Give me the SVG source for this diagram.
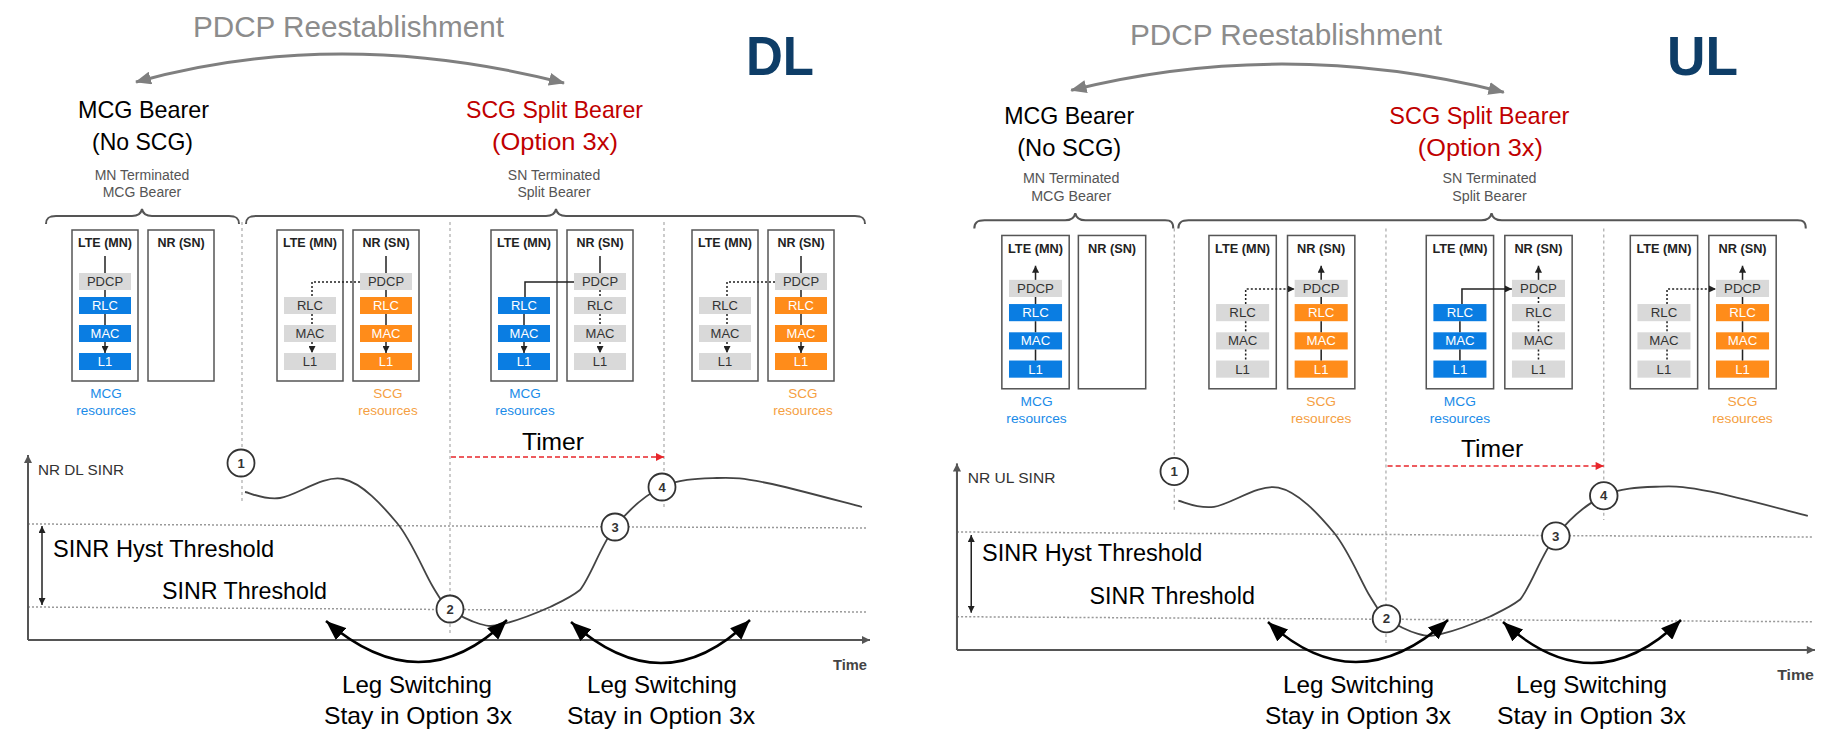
<svg xmlns="http://www.w3.org/2000/svg" width="1841" height="739" viewBox="0 0 1841 739">
<style>
text{font-family:"Liberation Sans",Arial,sans-serif}
.box{fill:none;stroke:#555;stroke-width:1.5}
.hdr{font-size:12.5px;font-weight:bold;fill:#222;text-anchor:middle}
.g{fill:#d9d9d9}.b{fill:#0a7de2}.o{fill:#ff8c1a}
.bt{font-size:13px;text-anchor:middle}
.d{fill:#333}.w{fill:#fff}
.res{font-size:13.5px;text-anchor:middle}
.mcg{fill:#1a8be8}.scg{fill:#f5a042}
.sl{fill:none;stroke:#222;stroke-width:1.5}
.dt{fill:none;stroke:#222;stroke-width:1.5;stroke-dasharray:2 2}
.sep{fill:none;stroke:#aaa;stroke-width:1.2;stroke-dasharray:3 3}
.thr{fill:none;stroke:#999;stroke-width:1.5;stroke-dasharray:2 2}
.big{font-size:24px;fill:#000}
.mid{text-anchor:middle}
.title{font-size:29.5px;fill:#8c8c8c;text-anchor:middle}
.red{fill:#c00000}
.sub{font-size:14px;fill:#555;text-anchor:middle}
.brace{fill:none;stroke:#555;stroke-width:2}
.axis{fill:none;stroke:#555;stroke-width:2}
.curve{fill:none;stroke:#444;stroke-width:1.8}
.pt{fill:#fff;stroke:#333;stroke-width:1.8}
.ptn{font-size:13px;font-weight:bold;fill:#333;text-anchor:middle}
.leg{fill:none;stroke:#000;stroke-width:2.5}
.timer{fill:none;stroke:#e8262b;stroke-width:1.6;stroke-dasharray:5 3}
.arc{fill:none;stroke:#7f7f7f;stroke-width:3}
.axl{font-size:15px;fill:#333}
.tl{font-size:14px;font-weight:bold;fill:#444}
.dir{font-size:56px;font-weight:bold;fill:#0e3d67}
</style>
<defs>
<marker id="m-gray" viewBox="0 0 16 13" refX="15" refY="6.5" markerWidth="16" markerHeight="13" markerUnits="userSpaceOnUse" orient="auto-start-reverse"><path d="M0,0L16,6.5L0,13z" fill="#7f7f7f"/></marker>
<marker id="m-s" viewBox="0 0 10 10" refX="10" refY="5" markerWidth="7" markerHeight="7" markerUnits="userSpaceOnUse" orient="auto"><path d="M0,0L10,5L0,10z" fill="#222"/></marker>
<marker id="m-ax" viewBox="0 0 10 10" refX="10" refY="5" markerWidth="10" markerHeight="8" markerUnits="userSpaceOnUse" orient="auto"><path d="M0,0L10,5L0,10z" fill="#555"/></marker>
<marker id="m-red" viewBox="0 0 10 10" refX="10" refY="5" markerWidth="9" markerHeight="8" markerUnits="userSpaceOnUse" orient="auto"><path d="M0,0L10,5L0,10z" fill="#e8262b"/></marker>
<marker id="m-leg" viewBox="0 0 20 16" refX="20" refY="8" markerWidth="20" markerHeight="16" markerUnits="userSpaceOnUse" orient="auto-start-reverse"><path d="M0,0L20,8L0,16z" fill="#000"/></marker>
<marker id="m-h" viewBox="0 0 10 10" refX="10" refY="5" markerWidth="7" markerHeight="7" markerUnits="userSpaceOnUse" orient="auto-start-reverse"><path d="M0,0L10,5L0,10z" fill="#222"/></marker>
</defs>
<rect width="1841" height="739" fill="#fff"/>

<!-- ================= DL ================= -->
<g id="dl">
 <g id="dl-heading">
  <text class="title" x="348.5" y="37" textLength="311" lengthAdjust="spacingAndGlyphs">PDCP Reestablishment</text>
 </g>
 <g id="dl-mcg-bearer">
  <text class="big mid" x="143.5" y="118" textLength="131" lengthAdjust="spacingAndGlyphs">MCG Bearer</text>
  <text class="big mid" x="142.5" y="150" textLength="101" lengthAdjust="spacingAndGlyphs">(No SCG)</text>
  <text class="sub" x="142" y="180">MN Terminated</text>
  <text class="sub" x="142" y="197">MCG Bearer</text>
 </g>
 <g id="dl-scg-bearer">
  <text class="big mid red" x="554.5" y="118" textLength="177" lengthAdjust="spacingAndGlyphs">SCG Split Bearer</text>
  <text class="big mid red" x="555" y="150" textLength="126" lengthAdjust="spacingAndGlyphs">(Option 3x)</text>
  <text class="sub" x="554" y="180">SN Terminated</text>
  <text class="sub" x="554" y="197">Split Bearer</text>
 </g>
 <g id="dl-braces">
  <path class="brace" d="M46,224C46,218 49,216 56,216L132,216C138,216 141,214 142,209C143,214 146,216 152,216L229,216C236,216 239,218 239,224"/>
  <path class="brace" d="M246,224C246,218 249,216 256,216L546,216C552,216 555,214 556,209C557,214 560,216 566,216L855,216C862,216 865,218 865,224"/>
  <path class="sep" d="M242,222V502M450,222V634M664,222V510"/>
 </g>
 <g id="dl-p1" transform="translate(72,230)">
  <rect class="box" x="0" y="0" width="66" height="151"/><rect class="box" x="76" y="0" width="66" height="151"/>
  <text class="hdr" x="33" y="17">LTE (MN)</text><text class="hdr" x="109" y="17">NR (SN)</text>
  <rect class="g" x="7" y="43" width="52" height="17"/><text class="bt d" x="33" y="56">PDCP</text>
  <rect class="b" x="7" y="67" width="52" height="17"/><text class="bt w" x="33" y="80">RLC</text>
  <rect class="b" x="7" y="95" width="52" height="17"/><text class="bt w" x="33" y="108">MAC</text>
  <rect class="b" x="7" y="123" width="52" height="17"/><text class="bt w" x="33" y="136">L1</text>
  <text class="res mcg" x="34" y="168">MCG</text><text class="res mcg" x="34" y="185">resources</text>
 </g>
 <g id="dl-p2" transform="translate(277,230)">
  <rect class="box" x="0" y="0" width="66" height="151"/><rect class="box" x="76" y="0" width="66" height="151"/>
  <text class="hdr" x="33" y="17">LTE (MN)</text><text class="hdr" x="109" y="17">NR (SN)</text>
  <rect class="g" x="7" y="67" width="52" height="17"/><text class="bt d" x="33" y="80">RLC</text>
  <rect class="g" x="7" y="95" width="52" height="17"/><text class="bt d" x="33" y="108">MAC</text>
  <rect class="g" x="7" y="123" width="52" height="17"/><text class="bt d" x="33" y="136">L1</text>
  <rect class="g" x="83" y="43" width="52" height="17"/><text class="bt d" x="109" y="56">PDCP</text>
  <rect class="o" x="83" y="67" width="52" height="17"/><text class="bt w" x="109" y="80">RLC</text>
  <rect class="o" x="83" y="95" width="52" height="17"/><text class="bt w" x="109" y="108">MAC</text>
  <rect class="o" x="83" y="123" width="52" height="17"/><text class="bt w" x="109" y="136">L1</text>
  <text class="res scg" x="111" y="168">SCG</text><text class="res scg" x="111" y="185">resources</text>
 </g>
 <g id="dl-p3" transform="translate(491,230)">
  <rect class="box" x="0" y="0" width="66" height="151"/><rect class="box" x="76" y="0" width="66" height="151"/>
  <text class="hdr" x="33" y="17">LTE (MN)</text><text class="hdr" x="109" y="17">NR (SN)</text>
  <rect class="b" x="7" y="67" width="52" height="17"/><text class="bt w" x="33" y="80">RLC</text>
  <rect class="b" x="7" y="95" width="52" height="17"/><text class="bt w" x="33" y="108">MAC</text>
  <rect class="b" x="7" y="123" width="52" height="17"/><text class="bt w" x="33" y="136">L1</text>
  <rect class="g" x="83" y="43" width="52" height="17"/><text class="bt d" x="109" y="56">PDCP</text>
  <rect class="g" x="83" y="67" width="52" height="17"/><text class="bt d" x="109" y="80">RLC</text>
  <rect class="g" x="83" y="95" width="52" height="17"/><text class="bt d" x="109" y="108">MAC</text>
  <rect class="g" x="83" y="123" width="52" height="17"/><text class="bt d" x="109" y="136">L1</text>
  <text class="res mcg" x="34" y="168">MCG</text><text class="res mcg" x="34" y="185">resources</text>
 </g>
 <g id="dl-p4" transform="translate(692,230)">
  <rect class="box" x="0" y="0" width="66" height="151"/><rect class="box" x="76" y="0" width="66" height="151"/>
  <text class="hdr" x="33" y="17">LTE (MN)</text><text class="hdr" x="109" y="17">NR (SN)</text>
  <rect class="g" x="7" y="67" width="52" height="17"/><text class="bt d" x="33" y="80">RLC</text>
  <rect class="g" x="7" y="95" width="52" height="17"/><text class="bt d" x="33" y="108">MAC</text>
  <rect class="g" x="7" y="123" width="52" height="17"/><text class="bt d" x="33" y="136">L1</text>
  <rect class="g" x="83" y="43" width="52" height="17"/><text class="bt d" x="109" y="56">PDCP</text>
  <rect class="o" x="83" y="67" width="52" height="17"/><text class="bt w" x="109" y="80">RLC</text>
  <rect class="o" x="83" y="95" width="52" height="17"/><text class="bt w" x="109" y="108">MAC</text>
  <rect class="o" x="83" y="123" width="52" height="17"/><text class="bt w" x="109" y="136">L1</text>
  <text class="res scg" x="111" y="168">SCG</text><text class="res scg" x="111" y="185">resources</text>
 </g>
 <g id="dl-graph">
  <path class="thr" d="M28,524L866,528M28,607L866,612"/>
  <path class="axis" d="M28,640V455" marker-end="url(#m-ax)"/>
  <path class="axis" d="M28,640H870" marker-end="url(#m-ax)"/>
  <text class="axl" x="38" y="475" textLength="86" lengthAdjust="spacingAndGlyphs">NR DL SINR</text>
  <text class="big" x="53" y="557" textLength="221" lengthAdjust="spacingAndGlyphs">SINR Hyst Threshold</text>
  <text class="big" x="162" y="599" textLength="165" lengthAdjust="spacingAndGlyphs">SINR Threshold</text>
  <text class="big" x="522" y="450" textLength="62" lengthAdjust="spacingAndGlyphs">Timer</text>
  <text class="tl" x="833" y="670" textLength="34" lengthAdjust="spacingAndGlyphs">Time</text>
  <path class="curve" d="M245,492C250.8,493 263.7,500.2 280,498C296.3,495.8 323.5,474.8 343,479C362.5,483.2 382,505 397,523C412,541 424.2,572.7 433,587C441.8,601.3 442.2,602.8 450,609C457.8,615.2 471.2,621.5 480,624C488.8,626.5 491.3,626.8 503,624C514.7,621.2 537.2,612.7 550,607C558,603 570,598 580,590C590.8,576.7 601.3,544.2 615,527C628.7,509.8 645,495.2 662,487C679,478.8 699.5,478.7 717,478C734.5,477.3 742.8,478.2 767,483C791.2,487.8 846.2,503 862,507"/>
 </g>
 <g id="dl-points">
  <circle class="pt" cx="241" cy="463" r="13.5"/><text class="ptn" x="241" y="467.5">1</text>
  <circle class="pt" cx="450" cy="609" r="13.5"/><text class="ptn" x="450" y="613.5">2</text>
  <circle class="pt" cx="615" cy="527" r="13.5"/><text class="ptn" x="615" y="531.5">3</text>
  <circle class="pt" cx="662" cy="487" r="13.5"/><text class="ptn" x="662" y="491.5">4</text>
 </g>
 <g id="dl-legs">
  <text class="big mid" x="417" y="693" textLength="150" lengthAdjust="spacingAndGlyphs">Leg Switching</text>
  <text class="big mid" x="418" y="724" textLength="188" lengthAdjust="spacingAndGlyphs">Stay in Option 3x</text>
  <text class="big mid" x="662" y="693" textLength="150" lengthAdjust="spacingAndGlyphs">Leg Switching</text>
  <text class="big mid" x="661" y="724" textLength="188" lengthAdjust="spacingAndGlyphs">Stay in Option 3x</text>
 </g>
 <g id="dl-connectors">
  <path class="arc" d="M136,82Q338,25.5 564,83" marker-start="url(#m-gray)" marker-end="url(#m-gray)"/>
  <g transform="translate(72,230)">
   <path class="sl" d="M33,26V43M33,60V67M33,84V95"/><path class="sl" d="M33,112V123" marker-end="url(#m-s)"/>
  </g>
  <g transform="translate(277,230)">
   <path class="sl" d="M109,26V43M109,60V67M109,84V95"/><path class="sl" d="M109,112V123" marker-end="url(#m-s)"/>
   <path class="dt" d="M83,52H35V67M35,84V95"/><path class="dt" d="M35,112V123" marker-end="url(#m-s)"/>
  </g>
  <g transform="translate(491,230)">
   <path class="sl" d="M109,26V43"/><path class="dt" d="M109,60V67M109,84V95"/><path class="dt" d="M109,112V123" marker-end="url(#m-s)"/>
   <path class="sl" d="M83,52H34V67M33,84V95"/><path class="sl" d="M33,112V123" marker-end="url(#m-s)"/>
  </g>
  <g transform="translate(692,230)">
   <path class="sl" d="M109,26V43M109,60V67M109,84V95"/><path class="sl" d="M109,112V123" marker-end="url(#m-s)"/>
   <path class="dt" d="M83,52H35V67M35,84V95"/><path class="dt" d="M35,112V123" marker-end="url(#m-s)"/>
  </g>
  <path class="sl" d="M42,526V605" marker-start="url(#m-h)" marker-end="url(#m-h)"/>
  <path class="timer" d="M451,457H664" marker-end="url(#m-red)"/>
  <path class="leg" d="M326,621Q421.5,703.5 507,620" marker-start="url(#m-leg)" marker-end="url(#m-leg)"/>
  <path class="leg" d="M571,622Q663.5,705 750,620" marker-start="url(#m-leg)" marker-end="url(#m-leg)"/>
 </g>
</g>
<g id="dl-label"><text class="dir" x="746" y="75" textLength="68" lengthAdjust="spacingAndGlyphs">DL</text></g>

<!-- ================= UL ================= -->
<g id="ul" transform="matrix(1.0202 0 0 1.0086 928.4 4.5)">
 <g id="ul-heading">
  <text class="title" x="350.5" y="40.2" textLength="306" lengthAdjust="spacingAndGlyphs">PDCP Reestablishment</text>
 </g>
 <g id="ul-mcg-bearer">
  <text class="big mid" x="138" y="118.5" textLength="127.5" lengthAdjust="spacingAndGlyphs">MCG Bearer</text>
  <text class="big mid" x="138" y="150" textLength="102" lengthAdjust="spacingAndGlyphs">(No SCG)</text>
  <text class="sub" x="140" y="177">MN Terminated</text>
  <text class="sub" x="140" y="195">MCG Bearer</text>
 </g>
 <g id="ul-scg-bearer">
  <text class="big mid red" x="540" y="118.5" textLength="176.5" lengthAdjust="spacingAndGlyphs">SCG Split Bearer</text>
  <text class="big mid red" x="541" y="150" textLength="122.5" lengthAdjust="spacingAndGlyphs">(Option 3x)</text>
  <text class="sub" x="550" y="177">SN Terminated</text>
  <text class="sub" x="550" y="195">Split Bearer</text>
 </g>
 <g id="ul-braces">
  <path class="brace" d="M45,222C45,216 48,214 55,214L134,214C140,214 143,212 144,207C145,212 148,214 154,214L232,214C238,214 240,216 240,222"/>
  <path class="brace" d="M245,222C245,216 248,214 255,214L542,214C548,214 551,212 552,207C553,212 556,214 562,214L852,214C858,214 860,216 860,222"/>
  <path class="sep" d="M241,222V501M448.5,222V633M662,222V511"/>
 </g>
 <g id="ul-p1" transform="translate(72,229)">
  <rect class="box" x="0" y="0" width="66" height="152"/><rect class="box" x="75" y="0" width="66" height="152"/>
  <text class="hdr" x="33" y="17">LTE (MN)</text><text class="hdr" x="108" y="17">NR (SN)</text>
  <rect class="g" x="7" y="44" width="52" height="17"/><text class="bt d" x="33" y="57">PDCP</text>
  <rect class="b" x="7" y="68" width="52" height="17"/><text class="bt w" x="33" y="81">RLC</text>
  <rect class="b" x="7" y="96" width="52" height="17"/><text class="bt w" x="33" y="109">MAC</text>
  <rect class="b" x="7" y="124" width="52" height="17"/><text class="bt w" x="33" y="137">L1</text>
  <text class="res mcg" x="34" y="169">MCG</text><text class="res mcg" x="34" y="186">resources</text>
 </g>
 <g id="ul-p2" transform="translate(275,229)">
  <rect class="box" x="0" y="0" width="66" height="152"/><rect class="box" x="77" y="0" width="66" height="152"/>
  <text class="hdr" x="33" y="17">LTE (MN)</text><text class="hdr" x="110" y="17">NR (SN)</text>
  <rect class="g" x="7" y="68" width="52" height="17"/><text class="bt d" x="33" y="81">RLC</text>
  <rect class="g" x="7" y="96" width="52" height="17"/><text class="bt d" x="33" y="109">MAC</text>
  <rect class="g" x="7" y="124" width="52" height="17"/><text class="bt d" x="33" y="137">L1</text>
  <rect class="g" x="84" y="44" width="52" height="17"/><text class="bt d" x="110" y="57">PDCP</text>
  <rect class="o" x="84" y="68" width="52" height="17"/><text class="bt w" x="110" y="81">RLC</text>
  <rect class="o" x="84" y="96" width="52" height="17"/><text class="bt w" x="110" y="109">MAC</text>
  <rect class="o" x="84" y="124" width="52" height="17"/><text class="bt w" x="110" y="137">L1</text>
  <text class="res scg" x="110" y="169">SCG</text><text class="res scg" x="110" y="186">resources</text>
 </g>
 <g id="ul-p3" transform="translate(488,229)">
  <rect class="box" x="0" y="0" width="66" height="152"/><rect class="box" x="77" y="0" width="66" height="152"/>
  <text class="hdr" x="33" y="17">LTE (MN)</text><text class="hdr" x="110" y="17">NR (SN)</text>
  <rect class="b" x="7" y="68" width="52" height="17"/><text class="bt w" x="33" y="81">RLC</text>
  <rect class="b" x="7" y="96" width="52" height="17"/><text class="bt w" x="33" y="109">MAC</text>
  <rect class="b" x="7" y="124" width="52" height="17"/><text class="bt w" x="33" y="137">L1</text>
  <rect class="g" x="84" y="44" width="52" height="17"/><text class="bt d" x="110" y="57">PDCP</text>
  <rect class="g" x="84" y="68" width="52" height="17"/><text class="bt d" x="110" y="81">RLC</text>
  <rect class="g" x="84" y="96" width="52" height="17"/><text class="bt d" x="110" y="109">MAC</text>
  <rect class="g" x="84" y="124" width="52" height="17"/><text class="bt d" x="110" y="137">L1</text>
  <text class="res mcg" x="33" y="169">MCG</text><text class="res mcg" x="33" y="186">resources</text>
 </g>
 <g id="ul-p4" transform="translate(688,229)">
  <rect class="box" x="0" y="0" width="66" height="152"/><rect class="box" x="77" y="0" width="66" height="152"/>
  <text class="hdr" x="33" y="17">LTE (MN)</text><text class="hdr" x="110" y="17">NR (SN)</text>
  <rect class="g" x="7" y="68" width="52" height="17"/><text class="bt d" x="33" y="81">RLC</text>
  <rect class="g" x="7" y="96" width="52" height="17"/><text class="bt d" x="33" y="109">MAC</text>
  <rect class="g" x="7" y="124" width="52" height="17"/><text class="bt d" x="33" y="137">L1</text>
  <rect class="g" x="84" y="44" width="52" height="17"/><text class="bt d" x="110" y="57">PDCP</text>
  <rect class="o" x="84" y="68" width="52" height="17"/><text class="bt w" x="110" y="81">RLC</text>
  <rect class="o" x="84" y="96" width="52" height="17"/><text class="bt w" x="110" y="109">MAC</text>
  <rect class="o" x="84" y="124" width="52" height="17"/><text class="bt w" x="110" y="137">L1</text>
  <text class="res scg" x="110" y="169">SCG</text><text class="res scg" x="110" y="186">resources</text>
 </g>
 <g id="ul-graph">
  <path class="thr" d="M28,523L866,528M28,607L866,612"/>
  <path class="axis" d="M28,640V455" marker-end="url(#m-ax)"/>
  <path class="axis" d="M28,640H869" marker-end="url(#m-ax)"/>
  <text class="axl" x="38.5" y="474" textLength="86" lengthAdjust="spacingAndGlyphs">NR UL SINR</text>
  <text class="big" x="52.5" y="552" textLength="216" lengthAdjust="spacingAndGlyphs">SINR Hyst Threshold</text>
  <text class="big" x="158" y="594" textLength="162" lengthAdjust="spacingAndGlyphs">SINR Threshold</text>
  <text class="big" x="522" y="449" textLength="61" lengthAdjust="spacingAndGlyphs">Timer</text>
  <text class="tl" x="832" y="670" textLength="36" lengthAdjust="spacingAndGlyphs">Time</text>
  <path class="curve" d="M245,492C250.8,493 263.7,500.2 280,498C296.3,495.8 323.5,474.8 343,479C362.5,483.2 382,505 397,523C412,541 424.2,572.7 433,587C441.8,601.3 442.2,602.8 450,609C457.8,615.2 471.2,621.5 480,624C488.8,626.5 491.3,626.8 503,624C514.7,621.2 537.2,612.7 550,607C558,603 570,598 580,590C590.8,576.7 601.3,544.2 615,527C628.7,509.8 645,495.2 662,487C679,478.8 699.5,478.7 717,478C734.5,477.3 742.8,478.2 767,483C791.2,487.8 846.2,503 862,507"/>
 </g>
 <g id="ul-points">
  <circle class="pt" cx="241" cy="463" r="13.5"/><text class="ptn" x="241" y="467.5">1</text>
  <circle class="pt" cx="449" cy="609" r="13.5"/><text class="ptn" x="449" y="613.5">2</text>
  <circle class="pt" cx="615" cy="527" r="13.5"/><text class="ptn" x="615" y="531.5">3</text>
  <circle class="pt" cx="662" cy="487" r="13.5"/><text class="ptn" x="662" y="491.5">4</text>
 </g>
 <g id="ul-connectors">
  <path class="arc" d="M140,85Q349,32.2 564,87" marker-start="url(#m-gray)" marker-end="url(#m-gray)"/>
  <g transform="translate(72,229)">
   <path class="sl" d="M33,44V30" marker-end="url(#m-s)"/><path class="sl" d="M33,61V68M33,85V96M33,113V124"/>
  </g>
  <g transform="translate(275,229)">
   <path class="sl" d="M110,44V30" marker-end="url(#m-s)"/><path class="sl" d="M110,61V68M110,85V96M110,113V124"/>
   <path class="dt" d="M36,68V53H84" marker-end="url(#m-s)"/><path class="dt" d="M36,85V96M36,113V124"/>
  </g>
  <g transform="translate(488,229)">
   <path class="sl" d="M110,44V30" marker-end="url(#m-s)"/><path class="dt" d="M110,61V68M110,85V96M110,113V124"/>
   <path class="sl" d="M35,68V53H84" marker-end="url(#m-s)"/><path class="sl" d="M33,85V96M33,113V124"/>
  </g>
  <g transform="translate(688,229)">
   <path class="sl" d="M110,44V30" marker-end="url(#m-s)"/><path class="sl" d="M110,61V68M110,85V96M110,113V124"/>
   <path class="dt" d="M36,68V53H84" marker-end="url(#m-s)"/><path class="dt" d="M36,85V96M36,113V124"/>
  </g>
  <path class="sl" d="M42,526V603" marker-start="url(#m-h)" marker-end="url(#m-h)"/>
  <path class="timer" d="M450,457.5H662" marker-end="url(#m-red)"/>
 </g>
</g>
<g id="ul-legs">
 <text class="big mid" x="1358.5" y="693" textLength="151" lengthAdjust="spacingAndGlyphs">Leg Switching</text>
 <text class="big mid" x="1358" y="724" textLength="186" lengthAdjust="spacingAndGlyphs">Stay in Option 3x</text>
 <text class="big mid" x="1591.5" y="693" textLength="151" lengthAdjust="spacingAndGlyphs">Leg Switching</text>
 <text class="big mid" x="1591.5" y="724" textLength="189" lengthAdjust="spacingAndGlyphs">Stay in Option 3x</text>
</g>
<g id="ul-leg-connectors">
 <path class="leg" d="M1268,622Q1356,703 1448,620" marker-start="url(#m-leg)" marker-end="url(#m-leg)"/>
 <path class="leg" d="M1503,622Q1594,705 1681,620" marker-start="url(#m-leg)" marker-end="url(#m-leg)"/>
</g>
<g id="ul-label"><text class="dir" x="1667" y="75" textLength="71" lengthAdjust="spacingAndGlyphs">UL</text></g>
</svg>
